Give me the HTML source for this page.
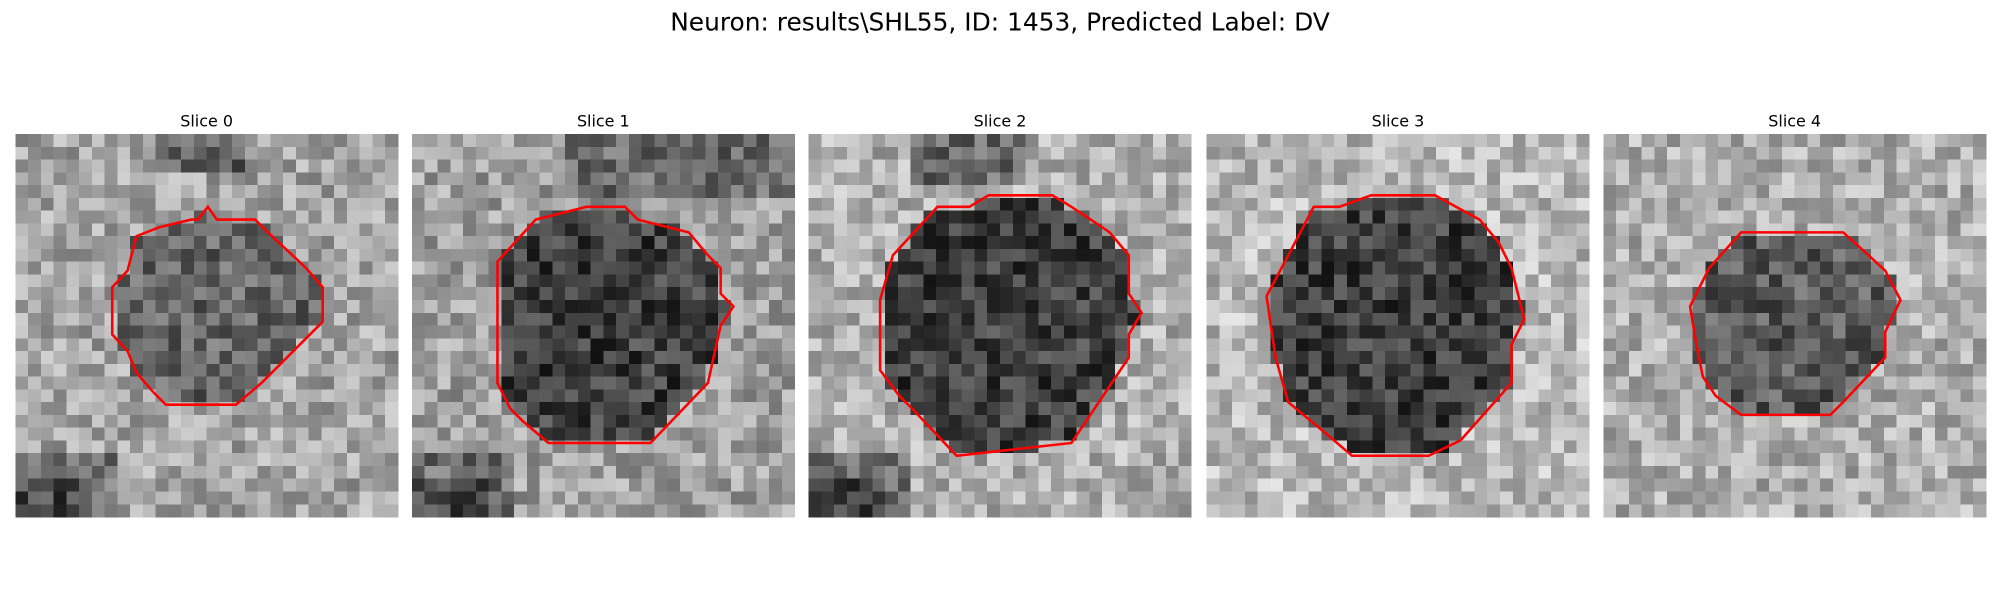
<!DOCTYPE html>
<html><head><meta charset="utf-8"><style>
html,body{margin:0;padding:0;background:#fff;}
svg{display:block;font-family:"DejaVu Sans","Liberation Sans",sans-serif;}
</style></head><body>
<svg id="fig" width="2000" height="600" viewBox="0 0 1568 470" preserveAspectRatio="none" xmlns="http://www.w3.org/2000/svg">
<rect width="1568" height="470" fill="#fff"/>
<text x="784" y="24" text-anchor="middle" font-size="19.5" fill="#000">Neuron: results\SHL55, ID: 1453, Predicted Label: DV</text>
<g id="panels"></g>
</svg>
<script>
const sliceLabels = ["Slice 0","Slice 1","Slice 2","Slice 3","Slice 4"];
const panelLeft = [12,323,634,946,1257];
const contours = [
 [[163,162],[170,172],[200,172],[210,182],[240,210],[253,225],[253,252],[205,300],[185,317],[130,317],[120,307],[107,292],[100,275],[88,262],[88,225],[100,212],[107,185],[125,178],[150,172],[155,172]],
 [[390,205],[420,172],[460,162],[490,162],[500,172],[540,182],[555,200],[565,210],[565,230],[575,240],[565,255],[555,300],[510,347],[430,347],[410,330],[400,320],[390,300]],
 [[735,162],[760,162],[775,153],[825,153],[840,162],[855,172],[870,182],[885,200],[885,230],[895,245],[885,262],[885,280],[840,347],[750,357],[715,320],[705,310],[690,290],[690,235],[700,200]],
 [[1030,162],[1050,162],[1075,153],[1125,153],[1160,172],[1175,190],[1185,210],[1195,250],[1185,270],[1185,300],[1145,345],[1120,357],[1060,357],[1040,340],[1010,315],[1000,280],[993,232],[1010,200]],
 [[1365,182],[1445,182],[1465,200],[1478,212],[1490,235],[1478,260],[1478,280],[1445,315],[1435,325],[1365,325],[1345,310],[1335,295],[1330,270],[1325,240],[1340,210]]
];
const insideGray = [100,62,62,62,90];
const outsideGray = [165,160,175,185,175];
const NS="http://www.w3.org/2000/svg";
const panels=document.getElementById('panels');
function h(i,j,k){let n=(i*374761393+j*668265263+k*2147483647)|0;n=(n^(n>>>13))*1274126177|0;n=n^(n>>>16);return ((n>>>0)%1000)/1000;}
function inside(pt,poly){let c=false;for(let a=0,b=poly.length-1;a<poly.length;b=a++){const [xi,yi]=poly[a],[xj,yj]=poly[b];if(((yi>pt[1])!=(yj>pt[1]))&&(pt[0]<(xj-xi)*(pt[1]-yi)/(yj-yi)+xi))c=!c;}return c;}
sliceLabels.forEach((lab,k)=>{
 const g=document.createElementNS(NS,'g');
 
 
 const x0=panelLeft[k],y0=105,cs=10;
 for(let r=0;r<30;r++)for(let c=0;c<30;c++){
  const cx=x0+c*cs+5,cy=y0+r*cs+5;
  let v=inside([cx,cy],contours[k])?insideGray[k]:outsideGray[k];
  if(k<3&&r>24&&c<8)v=(r>26&&c<6)?70:110;
  if(k===0&&r<3&&c>10&&c<18)v=95;
  if(k===1&&r<5&&c>11)v=105;
  if(k===2&&r<4&&c>7&&c<17)v=105;
  v+= (h(r,c,k)-0.5)*90;
  v=Math.max(0,Math.min(255,Math.round(v)));
  const re=document.createElementNS(NS,'rect');
  re.setAttribute('x',x0+c*cs);re.setAttribute('y',y0+r*cs);
  re.setAttribute('width',cs+0.3);re.setAttribute('height',cs+0.3);
  re.setAttribute('fill',`rgb(${v},${v},${v})`);
  re.setAttribute('shape-rendering','crispEdges');
  g.appendChild(re);
 }
 const p=document.createElementNS(NS,'polygon');
 
 
 p.setAttribute('points',contours[k].map(q=>q.join(',')).join(' '));
 p.setAttribute('fill','none');p.setAttribute('stroke','#f00');p.setAttribute('stroke-width','2');
 g.appendChild(p);
 const t=document.createElementNS(NS,'text');
 
 
 t.setAttribute('x',x0+150);t.setAttribute('y',99);t.setAttribute('text-anchor','middle');
 t.setAttribute('font-size','12.5');t.textContent=lab;
 g.appendChild(t);
 panels.appendChild(g);
});
</script>
</body></html>
